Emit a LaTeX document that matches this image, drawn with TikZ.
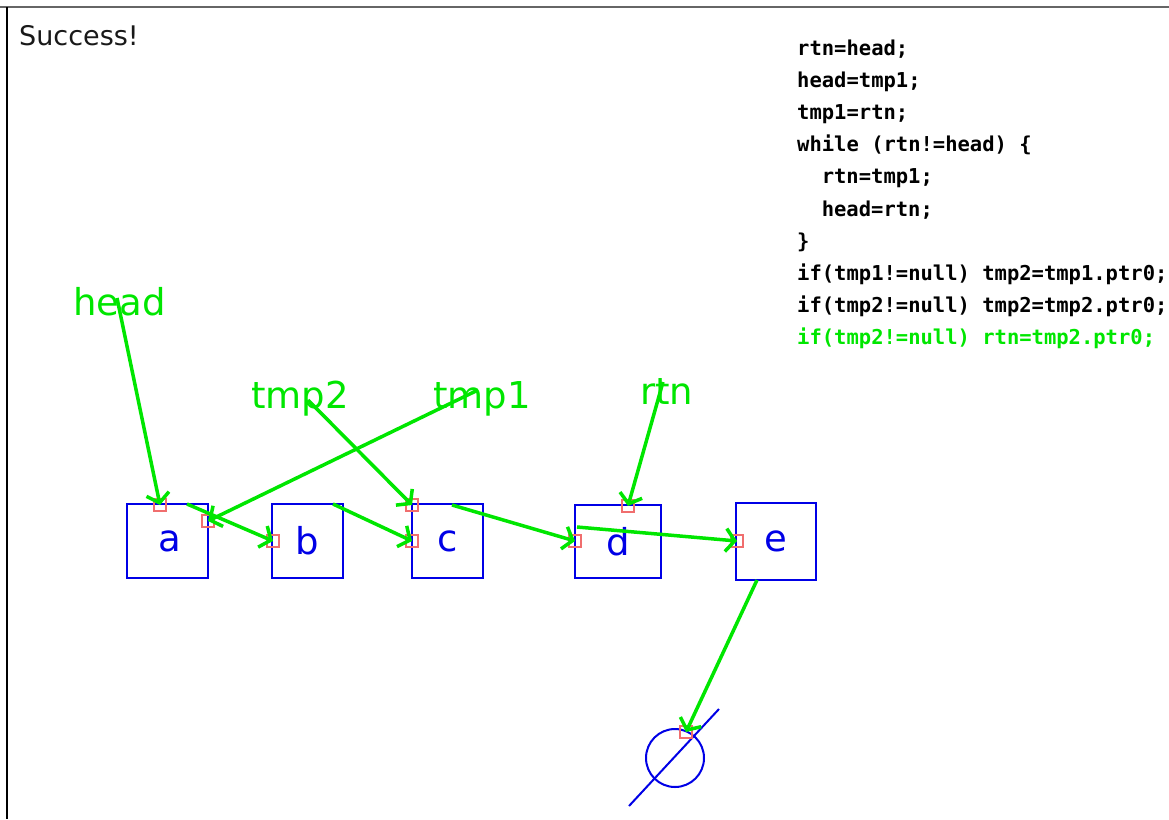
\documentclass[tikz,border=0pt]{standalone}
\usepackage{fontspec}
\setmainfont{DejaVu Sans}
\newfontfamily\codefont{DejaVu Sans Mono}[BoldFont={DejaVu Sans Mono Bold}]
\usetikzlibrary{arrows.meta}
\definecolor{ptrgreen}{RGB}{0,230,0}
\definecolor{boxblue}{RGB}{0,0,230}
\definecolor{markred}{RGB}{240,110,110}
\tikzset{
  cell/.style={draw=boxblue, line width=2pt, text=boxblue, inner sep=0pt,
    font=\fontsize{37}{40}\selectfont},
  varlabel/.style={text=ptrgreen, anchor=base west, inner sep=0pt,
    font=\fontsize{37}{40}\selectfont},
  codeline/.style={anchor=base west, inner sep=0pt,
    font=\codefont\bfseries\fontsize{20.5}{24}\selectfont},
  ptr/.style={draw=ptrgreen, line width=3.5pt,
    -{Straight Barb[length=9pt,width=23pt,line width=3.5pt]}},
  slot/.style={draw=markred, line width=1.5pt, minimum size=12pt,
    inner sep=0pt, fill=none},
}
\begin{document}
\begin{tikzpicture}[x=1pt,y=-1pt]
\useasboundingbox (0,0) rectangle (1169,819);
\begin{scope}
\clip (0,0) rectangle (1169,819);

% window frame
\draw[line width=2pt, gray!80!black] (0,7) -- (1169,7);
\draw[line width=2pt, black] (7,7) -- (7,819);

\node[anchor=base west, inner sep=0pt, text=black!90,
  font=\fontsize{27}{30}\selectfont] (status) at (19,45) {Success!};

% program text
\node[codeline] (code1)  at (797,55.0)  {rtn=head;};
\node[codeline] (code2)  at (797,87.2)  {head=tmp1;};
\node[codeline] (code3)  at (797,119.4) {tmp1=rtn;};
\node[codeline] (code4)  at (797,151.6) {while (rtn!=head) \{};
\node[codeline] (code5)  at (821.6,183.8) {rtn=tmp1;};
\node[codeline] (code6)  at (821.6,216.0) {head=rtn;};
\node[codeline] (code7)  at (797,248.2) {\}};
\node[codeline] (code8)  at (797,280.4) {if(tmp1!=null) tmp2=tmp1.ptr0;};
\node[codeline] (code9)  at (797,312.6) {if(tmp2!=null) tmp2=tmp2.ptr0;};
\node[codeline, text=ptrgreen] (code10) at (797,344.8) {if(tmp2!=null) rtn=tmp2.ptr0;};

% list cells
\node[cell, minimum width=81pt, minimum height=74pt] (a) at (167.5,541) {\hspace*{4pt}a};
\node[cell, minimum width=71pt, minimum height=74pt] (b) at (307.5,541) {b};
\node[cell, minimum width=71pt, minimum height=74pt] (c) at (447.5,541) {c};
\node[cell, minimum width=86pt, minimum height=73pt] (d) at (618,541.5) {d};
\node[cell, minimum width=80pt, minimum height=77pt] (e) at (776,541.5) {e};

% null terminator
\node[draw=boxblue, line width=2pt, circle, minimum size=58pt, inner sep=0pt] (nil) at (675,758) {};
\coordinate (nilA) at (629,806);
\coordinate (nilB) at (719,709);
\draw[boxblue, line width=2pt] (nilA) -- (nilB);

% variable names
\node[varlabel] (head) at (73,315) {head};
\node[varlabel] (tmp2) at (251,408) {tmp2};
\node[varlabel] (tmp1) at (433,408) {tmp1};
\node[varlabel] (rtn)  at (640,404) {rtn};

% pointer slots
\coordinate (aTop)   at (160,505);
\coordinate (aSide)  at (208,521);
\coordinate (bIn)    at (273,541);
\coordinate (cTop)   at (412,505);
\coordinate (cIn)    at (412,541);
\coordinate (dIn)    at (575,541);
\coordinate (dTop)   at (628,506);
\coordinate (eIn)    at (737,541);
\coordinate (nilTop) at (686,732);
\foreach \s in {aTop,aSide,bIn,cTop,cIn,dIn,dTop,eIn,nilTop}
  \node[slot] at (\s) {};

% pointer origins
\coordinate (headS) at (117,298);
\coordinate (tmp1S) at (478,390);
\coordinate (tmp2S) at (308,400);
\coordinate (rtnS)  at (663,382);
\coordinate (aNext) at (187,504);
\coordinate (bNext) at (333,504);
\coordinate (cNext) at (452,505);
\coordinate (dNext) at (577,527);
\coordinate (eNext) at (757,580);

% pointers
\draw[ptr] (headS) -- (aTop);
\draw[ptr] (tmp1S) -- (aSide);
\draw[ptr] (tmp2S) -- (cTop);
\draw[ptr] (rtnS)  -- (dTop);
\draw[ptr] (aNext) -- (bIn);
\draw[ptr] (bNext) -- (cIn);
\draw[ptr] (cNext) -- (dIn);
\draw[ptr] (dNext) -- (eIn);
\draw[ptr] (eNext) -- (nilTop);
\end{scope}
\end{tikzpicture}
\end{document}
